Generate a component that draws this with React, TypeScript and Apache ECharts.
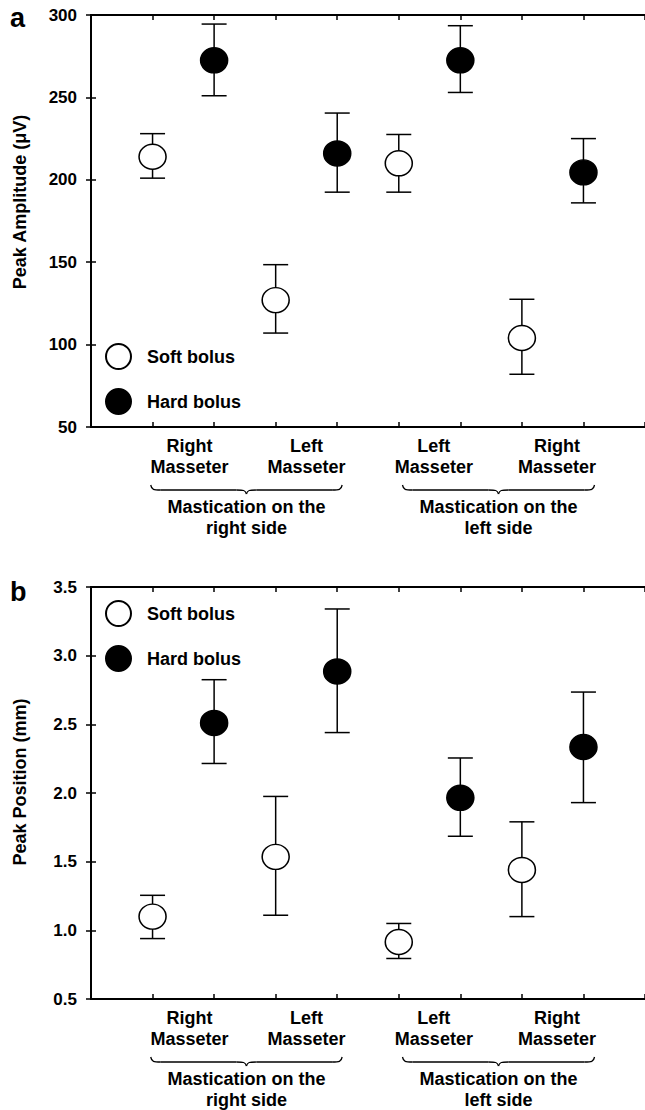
import React, { useEffect, useRef } from "react";
import * as echarts from "echarts";

// ---------- data ----------
const seriesNames = ["Soft bolus", "Hard bolus"];
const muscleLabels = ["Right\nMasseter", "Left\nMasseter", "Left\nMasseter", "Right\nMasseter"];
const sideLabels = ["Mastication on the\nright side", "Mastication on the\nleft side"];
const softX = [1, 3, 5, 7];
const hardX = [2, 4, 6, 8];

// panel a: Peak Amplitude (µV)
const ampSoftMean = [214, 127, 210, 104];
const ampSoftLow = [201, 107, 192.5, 82];
const ampSoftHigh = [228, 148.5, 227.5, 127.5];
const ampHardMean = [272.5, 216, 272.5, 204.5];
const ampHardLow = [251, 192.5, 253, 186];
const ampHardHigh = [294.5, 240.5, 293.5, 225];

// panel b: Peak Position (mm)
const posSoftMean = [1.1, 1.535, 0.915, 1.44];
const posSoftLow = [0.94, 1.11, 0.795, 1.1];
const posSoftHigh = [1.255, 1.975, 1.05, 1.79];
const posHardMean = [2.51, 2.885, 1.965, 2.335];
const posHardLow = [2.215, 2.44, 1.685, 1.93];
const posHardHigh = [2.825, 3.34, 2.255, 2.735];

// axis ranges / ticks
const ampAxis = { min: 50, max: 300, interval: 50 };
const posAxis = { min: 0.5, max: 3.5, interval: 0.5 };
const xAxisRange = { min: 0, max: 9, interval: 1 };

// annotation anchors (in x-axis units)
const muscleLabelX = [1.6, 3.5, 5.57, 7.57];
const braceSpans = [
  [0.97, 4.08],
  [5.06, 8.18],
];

// ---------- layout / style ----------
const FONT = "'Liberation Sans', Arial, Helvetica, sans-serif";
const ELLIPSE = "path://M0,10A10,10 0 1,1 20,10A10,10 0 1,1 0,10Z";
const GRID_LEFT = 91;
const GRID_WIDTH = 555;
const GRID_HEIGHT = 412;
const GRID_TOPS = [15, 587];

function errRender(params: any, api: any) {
  const x = api.value(0);
  const lo = api.coord([x, api.value(1)]);
  const hi = api.coord([x, api.value(2)]);
  const hw = 12.5;
  const style = { stroke: "#000", lineWidth: 1.5, fill: "none" };
  return {
    type: "group",
    children: [
      { type: "line", shape: { x1: lo[0], y1: lo[1], x2: hi[0], y2: hi[1] }, style },
      { type: "line", shape: { x1: lo[0] - hw, y1: lo[1], x2: lo[0] + hw, y2: lo[1] }, style },
      { type: "line", shape: { x1: hi[0] - hw, y1: hi[1], x2: hi[0] + hw, y2: hi[1] }, style },
    ],
  };
}

function makeAxes(gi: number, yr: any, fmt: (v: number) => string) {
  const line = { lineStyle: { color: "#000", width: 2 } };
  const tick = { inside: true, length: 5, lineStyle: { color: "#000", width: 1.5 } };
  const xBase = {
    gridIndex: gi,
    type: "value",
    ...xAxisRange,
    axisLine: line,
    axisTick: tick,
    axisLabel: { show: false },
    splitLine: { show: false },
  };
  const yBase = {
    gridIndex: gi,
    type: "value",
    ...yr,
    axisLine: { show: true, ...line },
    axisTick: { show: true, ...tick },
    splitLine: { show: false },
  };
  return {
    x: [
      { ...xBase, position: "bottom" },
      { ...xBase, position: "top" },
    ],
    y: [
      {
        ...yBase,
        position: "left",
        axisLabel: {
          show: true,
          margin: 14,
          color: "#000",
          fontSize: 17,
          fontWeight: "bold",
          fontFamily: FONT,
          formatter: fmt,
        },
      },
      { ...yBase, position: "right", axisLabel: { show: false } },
    ],
  };
}

function panelSeries(
  xi: number,
  yi: number,
  sMean: number[],
  sLow: number[],
  sHigh: number[],
  hMean: number[],
  hLow: number[],
  hHigh: number[]
) {
  const common = { xAxisIndex: xi, yAxisIndex: yi };
  return [
    {
      ...common,
      type: "custom",
      name: seriesNames[0] + " SD",
      renderItem: errRender,
      encode: { x: 0, y: [1, 2] },
      data: softX.map((x, i) => [x, sLow[i], sHigh[i]]),
      z: 2,
      silent: true,
    },
    {
      ...common,
      type: "custom",
      name: seriesNames[1] + " SD",
      renderItem: errRender,
      encode: { x: 0, y: [1, 2] },
      data: hardX.map((x, i) => [x, hLow[i], hHigh[i]]),
      z: 2,
      silent: true,
    },
    {
      ...common,
      type: "scatter",
      name: seriesNames[0],
      symbol: ELLIPSE,
      symbolSize: [27, 25],
      itemStyle: { color: "#fff", borderColor: "#000", borderWidth: 1.5, opacity: 1 },
      data: softX.map((x, i) => [x, sMean[i]]),
      z: 3,
    },
    {
      ...common,
      type: "scatter",
      name: seriesNames[1],
      symbol: ELLIPSE,
      symbolSize: [27, 25],
      itemStyle: { color: "#000", borderColor: "#000", borderWidth: 1.5, opacity: 1 },
      data: hardX.map((x, i) => [x, hMean[i]]),
      z: 3,
    },
  ];
}

function braceElements(x0: number, x1: number, yTop: number) {
  const yMid = yTop + 5;
  const yBot = yTop + 9;
  const cx = (x0 + x1) / 2;
  const q = 10;
  const style = { stroke: "#000", lineWidth: 1.3, fill: null };
  return [
    { type: "bezierCurve", shape: { x1: x0, y1: yTop, cpx1: x0 + 1, cpy1: yMid, cpx2: x0 + 3, cpy2: yMid, x2: x0 + q, y2: yMid }, style },
    { type: "line", shape: { x1: x0 + q, y1: yMid, x2: cx - q, y2: yMid }, style },
    { type: "bezierCurve", shape: { x1: cx - q, y1: yMid, cpx1: cx - 3, cpy1: yMid, cpx2: cx - 1, cpy2: yMid, x2: cx, y2: yBot }, style },
    { type: "bezierCurve", shape: { x1: cx, y1: yBot, cpx1: cx + 1, cpy1: yMid, cpx2: cx + 3, cpy2: yMid, x2: cx + q, y2: yMid }, style },
    { type: "line", shape: { x1: cx + q, y1: yMid, x2: x1 - q, y2: yMid }, style },
    { type: "bezierCurve", shape: { x1: x1 - q, y1: yMid, cpx1: x1 - 3, cpy1: yMid, cpx2: x1 - 1, cpy2: yMid, x2: x1, y2: yTop }, style },
  ];
}

export default function App() {
  const ref = useRef<HTMLDivElement>(null);

  useEffect(() => {
    if (!ref.current) return;
    const chart = echarts.init(ref.current, null, { renderer: "svg" });

    const a = makeAxes(0, ampAxis, (v: number) => String(v));
    const b = makeAxes(1, posAxis, (v: number) => v.toFixed(1));

    const legendBase = {
      data: seriesNames,
      orient: "vertical",
      left: 105,
      padding: 0,
      itemWidth: 27,
      itemHeight: 25,
      itemGap: 18,
      icon: ELLIPSE,
      selectedMode: false,
      textStyle: {
        fontSize: 18,
        fontWeight: "bold",
        color: "#000",
        fontFamily: FONT,
        padding: [0, 0, 0, 10],
      },
    };

    chart.setOption({
      animation: false,
      backgroundColor: "#fff",
      textStyle: { fontFamily: FONT },
      grid: GRID_TOPS.map((t) => ({
        left: GRID_LEFT,
        top: t,
        width: GRID_WIDTH,
        height: GRID_HEIGHT,
        containLabel: false,
      })),
      legend: [
        { ...legendBase, top: 343 },
        { ...legendBase, top: 600 },
      ],
      xAxis: [...a.x, ...b.x],
      yAxis: [...a.y, ...b.y],
      series: [
        ...panelSeries(0, 0, ampSoftMean, ampSoftLow, ampSoftHigh, ampHardMean, ampHardLow, ampHardHigh),
        ...panelSeries(2, 2, posSoftMean, posSoftLow, posSoftHigh, posHardMean, posHardLow, posHardHigh),
      ],
    });

    // annotations positioned through the chart's own axes
    const graphics: any[] = [];
    const panels = [
      { xi: 0, yi: 0, ymin: ampAxis.min, letter: "a", letterY: 18, title: "Peak Amplitude (\u03bcV)", titleY: 202 },
      { xi: 2, yi: 2, ymin: posAxis.min, letter: "b", letterY: 592, title: "Peak Position (mm)", titleY: 782 },
    ];
    panels.forEach((p) => {
      const toPx = (x: number) =>
        chart.convertToPixel({ xAxisIndex: p.xi, yAxisIndex: p.yi } as any, [x, p.ymin]) as number[];
      const axisY = toPx(0)[1];
      graphics.push({
        type: "text",
        x: 10,
        y: p.letterY,
        style: { text: p.letter, fontSize: 27, fontWeight: "bold", fontFamily: FONT, fill: "#000", align: "left", verticalAlign: "middle" },
      });
      graphics.push({
        type: "text",
        x: 19.5,
        y: p.titleY,
        rotation: Math.PI / 2,
        style: { text: p.title, fontSize: 18, fontWeight: "bold", fontFamily: FONT, fill: "#000", align: "center", verticalAlign: "middle" },
      });
      muscleLabels.forEach((lab, i) => {
        const px = toPx(muscleLabelX[i]);
        graphics.push({
          type: "text",
          x: px[0],
          y: axisY + 29.5,
          style: { text: lab, fontSize: 18, lineHeight: 21, fontWeight: "bold", fontFamily: FONT, fill: "#000", align: "center", verticalAlign: "middle" },
        });
      });
      braceSpans.forEach((span, i) => {
        const x0 = toPx(span[0])[0];
        const x1 = toPx(span[1])[0];
        graphics.push(...braceElements(x0, x1, axisY + 58));
        graphics.push({
          type: "text",
          x: (x0 + x1) / 2,
          y: axisY + 90,
          style: { text: sideLabels[i], fontSize: 18, lineHeight: 21, fontWeight: "bold", fontFamily: FONT, fill: "#000", align: "center", verticalAlign: "middle" },
        });
      });
    });
    chart.setOption({ graphic: graphics });

    return () => chart.dispose();
  }, []);

  return (
    <div
      ref={ref}
      style={{ position: "fixed", left: 0, top: 0, width: 645, height: 1110, background: "#fff" }}
    />
  );
}
